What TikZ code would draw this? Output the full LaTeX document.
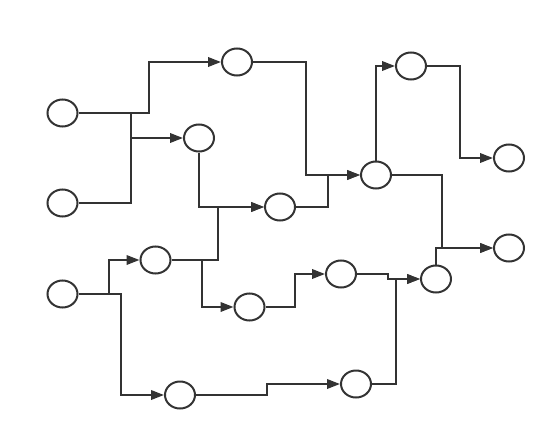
\documentclass[tikz,border=0pt]{standalone}
\usepackage{tikz}
\usetikzlibrary{shapes.geometric,arrows.meta}
\definecolor{ink}{HTML}{333333}

\begin{document}
\begin{tikzpicture}[x=1pt,y=-1pt, >={Triangle[length=13pt,width=9.5pt]},
  st/.style={draw=ink,ellipse,line width=2pt,minimum width=30pt,minimum height=27pt,inner sep=0pt},
  ln/.style={draw=ink,line width=2pt}]
  \useasboundingbox (0,0) rectangle (556,441);
  % states
  \foreach \n/\x/\y in {v1/62.5/113, v2/62.5/203, v3/62.5/294, v4/237/62, v5/199/138,
      v6/280/207, v7/155.5/260, v8/249.5/307, v9/180/395, v10/376/175, v11/411/66,
      v12/341/274, v13/356/384, v14/436/279, v15/509/158, v16/509/248}
    \node[st](\n) at (\x,\y){};
  % left part
  \draw[ln,->](v1.east)--(149,113)|-(v4);
  \draw[ln,->](v1.east)--(131,113)|-(v5);
  \draw[ln](v2.east)-|(131,113);
  \draw[ln,->](v5.south)|-(v6);
  \draw[ln,->](v7.east)--(218,260)|-(v6);
  \draw[ln,->](v7.east)--(202,260)|-(v8);
  \draw[ln,->](v3.east)--(109,294)|-(v7);
  \draw[ln,->](v3.east)--(121,294)|-(v9);
  % right part
  \draw[ln,->](v4.east)--(306,62)|-(v10);
  \draw[ln,->](v6.east)--(328,207)|-(v10);
  \draw[ln,->](v10.north)|-(v11);
  \draw[ln,->](v11.east)--(460,66)|-(v15);
  \draw[ln,->](v10.east)--(442,175)|-(v16);
  \draw[ln,->](v14.north)|-(v16);
  \draw[ln,->](v8.east)--(295,307)|-(v12);
  \draw[ln,->](v12.east)--(388,274)|-(v14);
  \draw[ln,->](v13.east)--(396,384)|-(v14);
  \draw[ln,->](v9.east)--(267,395)|-(v13);
\end{tikzpicture}
\end{document}
